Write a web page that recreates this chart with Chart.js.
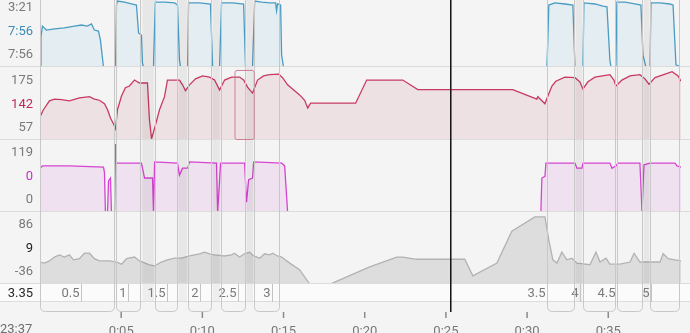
<!DOCTYPE html>
<html>
<head>
<meta charset="utf-8">
<script src="https://cdn.jsdelivr.net/npm/chart.js@4.4.0/dist/chart.umd.min.js"></script>
<style>
  html, body { margin: 0; padding: 0; background: #f4f4f4; }
  #wrap { position: relative; width: 690px; height: 333px; }
</style>
</head>
<body>
<div id="wrap"><canvas id="workoutChart" width="690" height="333"></canvas></div>
<script>
// Treino intervalado - ritmo, FC, cadência, altitude (tempo em minutos desde o início)
const paceMin = [0, 0.06, 0.15, 0.39, 0.89, 1.5, 2.12, 2.55, 2.92, 3.17, 3.35, 3.6, 3.72, 3.91, 4.65, 4.71, 4.77, 5.2, 5.64, 5.94,
  6.07, 6.25, 6.31, 6.37, 6.99, 7.1, 7.67, 8.29, 8.47, 8.59, 8.66, 9.09, 9.15, 9.83, 10.5, 10.63, 10.69, 11.06, 11.18, 11.86,
  12.54, 12.66, 13.09, 13.22, 13.65, 14.15, 14.51, 14.57, 14.63, 14.82, 14.88, 15.0, 31.22, 31.28, 31.34, 31.71, 32.33, 32.82, 32.95, 33.44,
  33.5, 34.18, 34.67, 34.92, 35.1, 35.17, 35.47, 35.53, 36.03, 36.64, 37.01, 37.14, 37.32, 37.57, 37.63, 38.19, 38.8, 38.99, 39.17, 39.48];
const paceKmh = [0, 8.3, 11.3, 10.2, 10.5, 10.8, 11.3, 11.6, 11.3, 11.9, 10.2, 9.9, 7.5, 0, 0, 17.1, 18.2, 17.9, 17.4, 17.1,
  9.4, 8.8, 1.1, 0, 0, 17.9, 17.9, 17.7, 17.1, 1.9, 0, 0, 17.7, 17.7, 17.4, 0.3, 0, 0, 17.7, 17.7,
  17.4, 0, 0, 18.2, 17.9, 17.7, 17.7, 15.5, 17.4, 17.1, 3.3, 0, 0, 7.5, 17.1, 17.7, 17.4, 17.1, 0, 0,
  17.7, 17.4, 16.8, 16.6, 1.9, 0, 0, 17.9, 17.9, 17.4, 17.1, 3.3, 0, 0, 17.7, 17.7, 17.4, 17.1, 0.6, 0];

const hrMin = [0, 0.21, 0.58, 0.89, 1.32, 1.81, 2.43, 3.05, 3.35, 3.66, 3.97, 4.16, 4.34, 4.53, 4.65, 4.77, 5.02, 5.26, 5.51, 5.82,
  6.13, 6.62, 6.74, 6.87, 7.11, 7.36, 7.67, 7.85, 8.59, 8.78, 8.96, 9.21, 9.58, 10.01, 10.44, 10.75, 11.06, 11.37, 11.8, 12.29,
  12.54, 12.78, 13.09, 13.4, 13.77, 14.14, 14.7, 14.94, 15.25, 15.99, 16.3, 16.49, 16.67, 19.44, 20.12, 22.34, 23.27, 29.12, 30.6, 30.66,
  31.1, 31.28, 31.53, 31.77, 32.33, 32.95, 33.25, 33.44, 33.75, 34.18, 35.1, 35.35, 35.47, 35.84, 36.34, 36.95, 37.26, 37.51, 37.88, 38.5,
  38.93, 39.3, 39.48];
const hrBpm = [96, 108, 123, 126, 125, 123, 128, 130, 126, 124, 118, 108, 94, 84, 76, 108, 131, 145, 148, 158,
  153, 153, 91, 59, 82, 108, 130, 158, 158, 150, 140, 150, 160, 165, 163, 158, 141, 158, 163, 163,
  158, 146, 136, 158, 165, 167, 168, 162, 150, 133, 124, 111, 119, 119, 158, 158, 142, 142, 126, 130,
  118, 131, 148, 156, 163, 162, 155, 143, 155, 163, 167, 158, 148, 158, 165, 167, 160, 151, 162, 168,
  172, 165, 156];

const cadMin = [0, 0.15, 1.81, 3.91, 3.97, 4.03, 4.16, 4.22, 4.34, 4.4, 4.59, 4.65, 4.71, 5.51, 6.25, 6.44, 6.93, 6.99, 7.06, 8.47,
  8.59, 8.78, 9.09, 9.21, 10.87, 10.94, 11.06, 11.12, 12.6, 12.72, 12.85, 13.09, 13.16, 14.88, 15.07, 15.25, 30.85, 30.91, 31.1, 31.16,
  32.95, 33.07, 33.38, 33.44, 35.1, 35.23, 35.47, 35.6, 36.95, 37.08, 37.2, 37.57, 39.11, 39.23, 39.48];
const cadSpm = [76, 80, 80, 78, 69, 0, 0, 54, 59, 0, 0, 118, 85, 85, 85, 59, 59, 0, 87, 85,
  64, 76, 76, 87, 85, 0, 54, 85, 85, 17, 56, 59, 87, 85, 80, 0, 0, 59, 62, 85,
  85, 76, 76, 85, 85, 76, 80, 85, 85, 0, 82, 85, 85, 80, 78];

const eleMin = [0, 0.27, 0.58, 0.89, 1.2, 1.5, 1.81, 2.06, 2.43, 2.74, 3.05, 3.35, 3.66, 4.28, 4.71, 5.02, 5.33, 5.82, 6.13, 6.74,
  7.06, 7.48, 7.85, 8.29, 8.72, 9.21, 9.83, 10.14, 10.44, 10.75, 11.37, 11.8, 11.98, 12.29, 12.6, 12.91, 13.16, 13.53, 13.83, 14.14,
  14.33, 14.63, 14.88, 15.38, 15.99, 16.61, 17.97, 20.31, 21.97, 22.34, 23.2, 26.16, 26.66, 28.14, 29.06, 30.48, 31.1, 31.34, 31.59, 31.84,
  32.14, 32.45, 32.76, 33.07, 33.87, 34.24, 34.49, 34.86, 35.1, 35.72, 36.34, 36.59, 36.95, 38.19, 38.38, 38.69, 39.11, 39.48];
const eleM = [4, 2, 6, 13, 17, 13, 17, 8, 10, 20, 20, 10, 6, 6, 4, 0, 10, 13, 6, -1,
  -3, 4, 8, 11, 11, 15, 19, 22, 19, 17, 15, 17, 20, 13, 19, 22, 15, 11, 19, 17,
  20, 15, 13, 2, -10, -36, -35, -5, 13, 13, 9, 9, -21, 2, 60, 86, 86, 44, 8, 2,
  22, 8, 11, 2, -1, 22, 4, 11, 0, 0, 4, 20, 4, 4, 19, 10, 8, 6];

// marcas de distância (km) e o minuto em que foram atingidas
const kmMarks = ['0.5', '1', '1.5', '2', '2.5', '3', '3.5', '4', '4.5', '5'];
const kmMarkMin = [2.55, 5.39, 7.85, 9.83, 12.17, 14.27, 31.22, 33.25, 35.53, 37.63];

// voltas (caixas) e pausas (faixas escuras)
const lapStart = [0, 4.71, 7.06, 9.09, 11.12, 13.16, 31.22, 33.44, 35.53, 37.57];
const lapEnd = [4.65, 6.25, 8.47, 10.57, 12.66, 14.76, 32.95, 35.47, 37.14, 39.42];
const restStart = [6.31, 8.53, 10.63, 12.72, 32.99, 37.18];
const restEnd = [7.02, 9.05, 11.08, 13.12, 33.4, 37.53];

// rótulos laterais: máximo, valor no cursor, mínimo
const paceLabels = ['3:21', '7:56', '7:56'];
const hrLabels = ['175', '142', '57'];
const cadLabels = ['119', '0', '0'];
const eleLabels = ['86', '9', '-36'];
const distLabel = '3.35';
const startTime = '23:37';
const cursorMin = 25.3;
const hrZoom = [11.98, 13.16];

const toPoints = (xs, ys) => xs.map((x, i) => ({x: x, y: ys[i]}));
const FONT = 'Roboto';

function lineSet(label, data, axis, border, fill) {
  return {
    label: label, data: data, yAxisID: axis,
    borderColor: border, backgroundColor: fill, fill: 'start',
    borderWidth: 1.3, pointRadius: 0, tension: 0
  };
}

function panelAxis(min, max, weight, order) {
  return {
    type: 'linear', position: 'left', stack: 'panels', stackWeight: weight, weight: order,
    min: min, max: max, offset: false,
    grid: {display: false, drawTicks: false}, border: {display: false}, ticks: {display: false},
    afterFit: (s) => { s.width = 0; }
  };
}

const workoutPlugin = {
  id: 'workout',
  beforeDraw(chart) {
    const {ctx, chartArea, scales} = chart;
    ctx.save();
    ctx.fillStyle = '#f4f4f4';
    ctx.fillRect(0, 0, chart.width, chart.height);
    const d = scales.yDist;
    ctx.fillStyle = '#fbfbfb';
    ctx.fillRect(0, d.top, chart.width, d.bottom - d.top);
    ctx.restore();
  },
  afterDatasetsDraw(chart) {
    const {ctx, chartArea, scales} = chart;
    const x = scales.x;
    ctx.save();
    // faixas de pausa
    ctx.fillStyle = 'rgba(0,0,0,0.05)';
    restStart.forEach((s, i) => {
      const a = x.getPixelForValue(s), b = x.getPixelForValue(restEnd[i]);
      ctx.fillRect(a, chartArea.top, b - a, chartArea.bottom - chartArea.top);
    });
    // linhas de separação
    ctx.strokeStyle = '#dcdcdc';
    ctx.lineWidth = 1;
    ['yPace', 'yHr', 'yCad', 'yEle', 'yDist'].forEach(id => {
      const yb = Math.round(scales[id].bottom) - 0.5;
      ctx.beginPath(); ctx.moveTo(0, yb); ctx.lineTo(chart.width, yb); ctx.stroke();
    });
    // distância
    const d = scales.yDist;
    ctx.font = '13px ' + FONT;
    ctx.textAlign = 'right';
    ctx.textBaseline = 'middle';
    kmMarks.forEach((m, i) => {
      const px = Math.round(x.getPixelForValue(kmMarkMin[i])) + 0.5;
      ctx.strokeStyle = '#c4c4c4';
      ctx.beginPath(); ctx.moveTo(px, d.top); ctx.lineTo(px, d.bottom); ctx.stroke();
      ctx.fillStyle = '#7a7a7a';
      ctx.fillText(m, px - 2, (d.top + d.bottom) / 2 + 1);
    });
    // caixas das voltas
    ctx.strokeStyle = '#c8c8c8';
    const boxBottom = chartArea.bottom + 9.5;
    lapStart.forEach((s, i) => {
      const a = Math.round(x.getPixelForValue(s)) + 0.5;
      const b = Math.round(x.getPixelForValue(lapEnd[i])) - 0.5;
      const r = 5;
      ctx.beginPath();
      ctx.moveTo(a, -2);
      ctx.lineTo(a, boxBottom - r);
      ctx.quadraticCurveTo(a, boxBottom, a + r, boxBottom);
      ctx.lineTo(b - r, boxBottom);
      ctx.quadraticCurveTo(b, boxBottom, b, boxBottom - r);
      ctx.lineTo(b, -2);
      ctx.stroke();
    });
    // janela destacada na FC
    const hr = scales.yHr;
    const ha = x.getPixelForValue(hrZoom[0]), hb = x.getPixelForValue(hrZoom[1]);
    const ht = hr.getPixelForValue(175);
    ctx.strokeStyle = 'rgba(205,110,135,0.85)';
    ctx.beginPath();
    ctx.roundRect(ha + 0.5, ht + 0.5, hb - ha, hr.bottom - ht - 1, 2);
    ctx.stroke();
    ctx.restore();
  },
  afterDraw(chart) {
    const {ctx, chartArea, scales} = chart;
    const x = scales.x;
    ctx.save();
    // marcas do eixo de tempo
    ctx.strokeStyle = '#8a8a8a';
    ctx.lineWidth = 1.5;
    for (let m = 5; m <= 35; m += 5) {
      const px = x.getPixelForValue(m);
      ctx.beginPath(); ctx.moveTo(px, chartArea.bottom + 10); ctx.lineTo(px, chartArea.bottom + 16); ctx.stroke();
    }
    // cursor
    const cx = x.getPixelForValue(cursorMin);
    ctx.strokeStyle = '#111';
    ctx.lineWidth = 1.5;
    ctx.beginPath(); ctx.moveTo(cx, 0); ctx.lineTo(cx, chartArea.bottom + 10); ctx.stroke();
    // rótulos laterais
    ctx.font = '13px ' + FONT;
    ctx.textAlign = 'right';
    ctx.textBaseline = 'middle';
    const sets = [
      ['yPace', paceLabels, '#3d8db3'],
      ['yHr', hrLabels, '#c0285a'],
      ['yCad', cadLabels, '#c62fc4'],
      ['yEle', eleLabels, '#222']
    ];
    sets.forEach(([id, texts, mid]) => {
      const b = scales[id].bottom;
      ctx.fillStyle = '#7a7a7a'; ctx.fillText(texts[0], 33, b - 59);
      ctx.fillStyle = mid; ctx.fillText(texts[1], 33, b - 35);
      ctx.fillStyle = '#7a7a7a'; ctx.fillText(texts[2], 33, b - 12);
    });
    const d = scales.yDist;
    ctx.fillStyle = '#2a2a2a';
    ctx.fillText(distLabel, 33, (d.top + d.bottom) / 2 + 1);
    ctx.textAlign = 'left';
    ctx.fillStyle = '#6e6e6e';
    ctx.fillText(startTime, 0, chartArea.bottom + 28);
    ctx.restore();
  }
};

const ctx = document.getElementById('workoutChart').getContext('2d');
const workoutChart = new Chart(ctx, {
  type: 'line',
  data: {
    datasets: [
      lineSet('Ritmo', toPoints(paceMin, paceKmh), 'yPace', '#4b9cc2', '#e3edf2'),
      lineSet('FC', toPoints(hrMin, hrBpm), 'yHr', '#c83a63', '#eee1e4'),
      lineSet('Cadência', toPoints(cadMin, cadSpm), 'yCad', '#d545d2', '#efe1ef'),
      lineSet('Altitude', toPoints(eleMin, eleM), 'yEle', '#b2b2b2', '#dddddd')
    ]
  },
  options: {
    responsive: false,
    animation: false,
    devicePixelRatio: 1,
    layout: {padding: {left: 40, right: 9, top: 0, bottom: 0}},
    plugins: {legend: {display: false}, tooltip: {enabled: false}},
    scales: {
      x: {
        type: 'linear', min: 0, max: 39.48,
        grid: {display: false, drawTicks: false}, border: {display: false},
        ticks: {
          stepSize: 5, padding: 22, color: '#777', font: {family: FONT, size: 13},
          maxRotation: 0, autoSkip: false,
          callback: (v) => (v > 0 && v % 5 === 0 ? '0:' + String(v).padStart(2, '0') : '')
        },
        afterFit: (s) => { s.height = 31; s.paddingLeft = 0; s.paddingRight = 0; }
      },
      yPace: panelAxis(0, 18.5, 67, 5),
      yHr: panelAxis(57, 180, 73, 4),
      yCad: panelAxis(0, 125, 72, 3),
      yEle: panelAxis(-36, 95, 72, 2),
      yDist: panelAxis(0, 1, 18, 1)
    }
  },
  plugins: [workoutPlugin]
});
</script>
</body>
</html>
